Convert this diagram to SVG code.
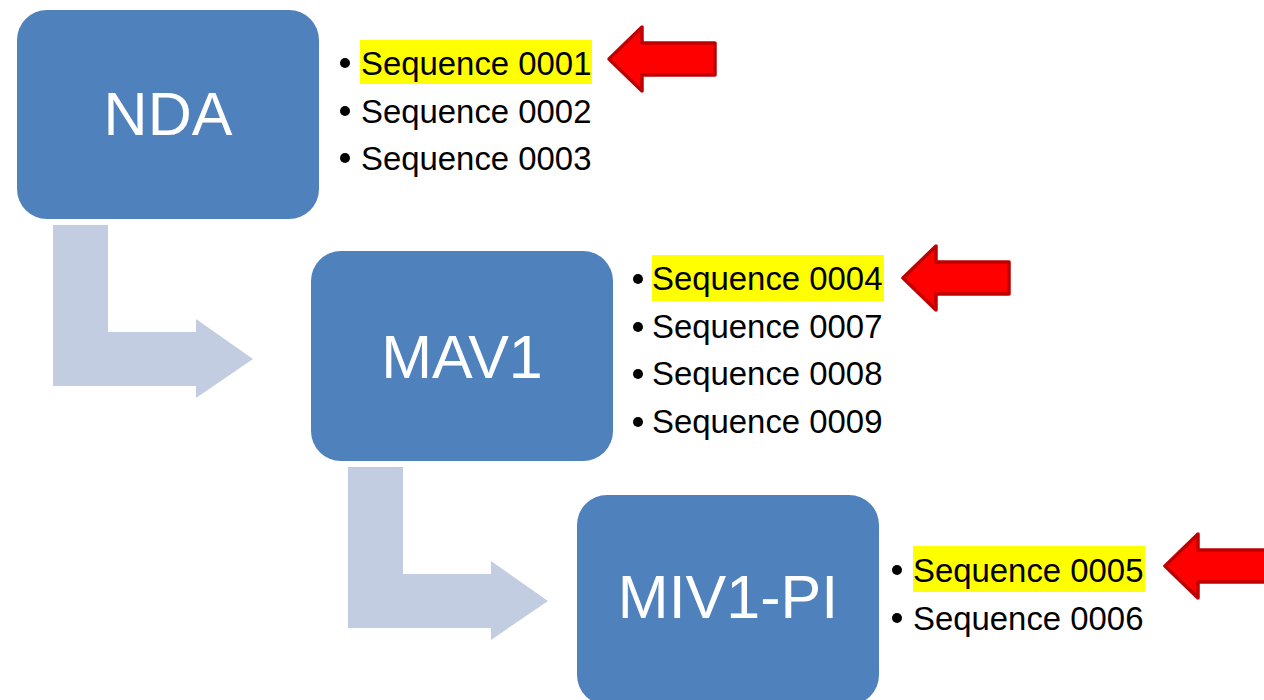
<svg xmlns="http://www.w3.org/2000/svg" width="1264" height="700" viewBox="0 0 1264 700">
  <defs>
    <style>
      .box { fill: #4F81BD; }
      .box-label { font-family: "Liberation Sans", Arial, sans-serif; font-size: 61px; fill: #FFFFFF; text-anchor: middle; }
      .item { font-family: "Liberation Sans", Arial, sans-serif; font-size: 32.9px; fill: #000000; }
      .bullet { fill: #000000; }
      .mark { fill: #FFFF00; }
      .flow { fill: #C3CDE1; }
      .pointer { fill: #FF0000; stroke: #C00000; stroke-width: 3.5; stroke-linejoin: round; }
    </style>
    <!-- left-pointing block arrow, origin at the tip -->
    <path id="pointer" class="pointer" d="M0,0 L33,-32 L33,-16 L106,-16 L106,16 L33,16 L33,32 Z"/>
    <!-- bent (down then right) block arrow, origin at top-left of the stem -->
    <path id="bend" class="flow" d="M0,0 H55 V107 H143 V94 L200,134 L143,173 V161 H0 Z"/>
  </defs>

  <rect width="1264" height="700" fill="#FFFFFF"/>

  <g id="connectors">
    <use href="#bend" x="53" y="225"/>
    <use href="#bend" x="348" y="467"/>
  </g>

  <g id="node-nda">
    <rect class="box" x="17" y="10" width="302" height="209" rx="30"/>
    <text class="box-label" x="168" y="135">NDA</text>
  </g>

  <g id="node-mav1">
    <rect class="box" x="311" y="251" width="302" height="210" rx="30"/>
    <text class="box-label" x="462" y="378">MAV1</text>
  </g>

  <g id="node-miv1-pi">
    <rect class="box" x="577" y="495" width="302" height="210" rx="30"/>
    <text class="box-label" x="728" y="618">MIV1-PI</text>
  </g>

  <g id="list-nda">
    <rect class="mark" x="360" y="40" width="232" height="44"/>
    <circle class="bullet" cx="345" cy="63" r="5"/>
    <circle class="bullet" cx="345" cy="111" r="5"/>
    <circle class="bullet" cx="345" cy="158" r="5"/>
    <text class="item" x="361" y="75">Sequence 0001</text>
    <text class="item" x="361" y="123">Sequence 0002</text>
    <text class="item" x="361" y="170">Sequence 0003</text>
    <use href="#pointer" x="609" y="59"/>
  </g>

  <g id="list-mav1">
    <rect class="mark" x="652" y="255" width="232" height="46"/>
    <circle class="bullet" cx="638" cy="279" r="5"/>
    <circle class="bullet" cx="638" cy="327" r="5"/>
    <circle class="bullet" cx="638" cy="374" r="5"/>
    <circle class="bullet" cx="638" cy="422" r="5"/>
    <text class="item" x="652" y="290">Sequence 0004</text>
    <text class="item" x="652" y="338">Sequence 0007</text>
    <text class="item" x="652" y="385">Sequence 0008</text>
    <text class="item" x="652" y="433">Sequence 0009</text>
    <use href="#pointer" x="903" y="278"/>
  </g>

  <g id="list-miv1-pi">
    <rect class="mark" x="913" y="546" width="232" height="46"/>
    <circle class="bullet" cx="897" cy="570" r="5"/>
    <circle class="bullet" cx="897" cy="618" r="5"/>
    <text class="item" x="913" y="582">Sequence 0005</text>
    <text class="item" x="913" y="630">Sequence 0006</text>
    <use href="#pointer" x="1165" y="566"/>
  </g>
</svg>
